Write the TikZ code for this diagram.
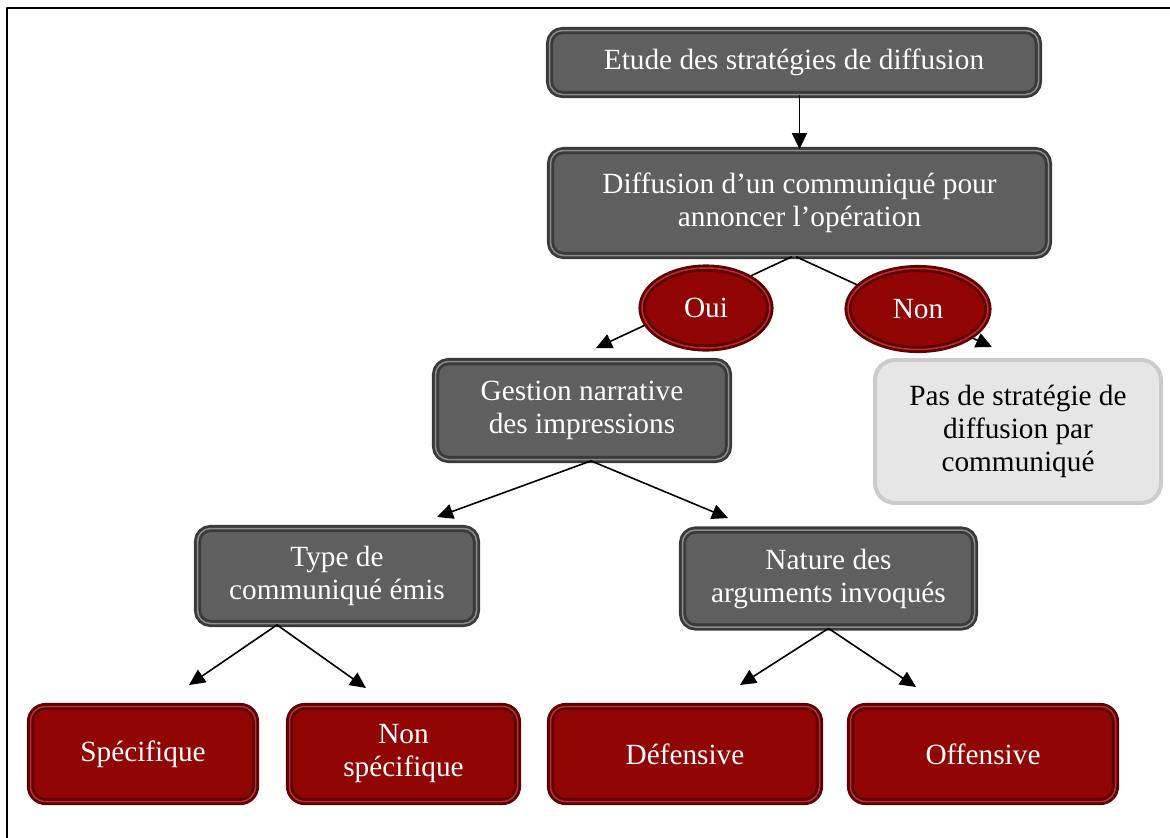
\documentclass[tikz,border=0pt]{standalone}
\usepackage{fontspec}
\setmainfont{Liberation Serif}
\usepackage{tikz}
\usetikzlibrary{arrows.meta}
\usetikzlibrary{shapes.geometric}

\definecolor{boxgray}{HTML}{5F5F5F}
\definecolor{boxrim}{HTML}{3A3A3A}
\definecolor{boxhi}{HTML}{8C8C8C}
\definecolor{boxred}{HTML}{920505}
\definecolor{redrim}{HTML}{5E0000}
\definecolor{redhi}{HTML}{B83030}
\definecolor{palefill}{HTML}{E6E6E6}
\definecolor{palerim}{HTML}{CBCBCB}

\tikzset{
  txt/.style={font=\fontsize{29.3pt}{33pt}\selectfont, align=center},
  graybox/.style={txt, text=white, fill=boxgray, draw=boxrim, double=boxhi,
    double distance=1.5pt, line width=2.8pt, rounded corners=13pt, inner sep=0pt},
  redbox/.style={txt, text=white, fill=boxred, draw=redrim, double=redhi,
    double distance=1.5pt, line width=2.8pt, rounded corners=15pt, inner sep=0pt},
  redoval/.style={txt, text=white, ellipse, fill=boxred, draw=redrim, double=redhi,
    double distance=1.5pt, line width=2.8pt, inner sep=0pt},
  palebox/.style={txt, text=black, fill=palefill, draw=palerim, line width=4pt,
    rounded corners=20pt, inner sep=0pt},
  link/.style={line width=1.6pt, -{Triangle[length=16pt,width=15pt]}},
}

\begin{document}
\begin{tikzpicture}[x=1pt, y=-1pt, line cap=round, line join=round]
  \useasboundingbox (0,0) rectangle (1170,838);
  %--- frame
    \draw[line width=1.2pt] (7,838) -- (7,8) -- (1170,8);
  %--- top
    \node[graybox, minimum width=489pt, minimum height=64pt] (etude) at (794,62.5)
      {Etude des stratégies de diffusion};
    \node[graybox, minimum width=498pt, minimum height=105pt] (diffusion) at (799.5,203)
      {Diffusion d’un communiqué pour\\annoncer l’opération};
    \draw[link] (diffusion.north |- etude.south) -- (diffusion.north);
  %--- Oui / Non
    \coordinate (ouitip) at (596,348);
    \coordinate (nontip) at (992,347);
    \draw[link] ([xshift=-8pt]diffusion.south) -- (ouitip);
    \draw[link] ([xshift=-3pt]diffusion.south) -- (nontip);
    \node[redoval, minimum width=128pt, minimum height=80pt] (oui) at (706,308) {Oui};
    \node[redoval, minimum width=140pt, minimum height=81pt] (non) at (918,309) {Non};
  %--- second level
    \node[graybox, minimum width=293pt, minimum height=98pt] (gestion) at (582,410.5)
      {Gestion narrative\\des impressions};
    \node[palebox, minimum width=286pt, minimum height=143pt] (aucune) at (1018,431.5)
      {Pas de stratégie de\\diffusion par\\communiqué};
  %--- third level
    \node[graybox, minimum width=279pt, minimum height=95pt] (type) at (337,576)
      {Type de\\communiqué émis};
    \node[graybox, minimum width=292pt, minimum height=97pt] (nature) at (828.5,578.5)
      {Nature des\\arguments invoqués};
    \coordinate (typetip) at (437,517);
    \coordinate (naturetip) at (728,518);
    \draw[link] ([xshift=9pt]gestion.south) -- (typetip);
    \draw[link] ([xshift=9pt]gestion.south) -- (naturetip);
  %--- leaves
    \node[redbox, minimum width=225pt, minimum height=95pt] (specifique) at (143,754)
      {Spécifique};
    \node[redbox, minimum width=228pt, minimum height=95pt] (nonspecifique) at (403.5,754)
      {Non\\spécifique};
    \node[redbox, minimum width=269pt, minimum height=95pt] (defensive) at (685,754)
      {Défensive};
    \node[redbox, minimum width=265pt, minimum height=95pt] (offensive) at (983,754)
      {Offensive};
    \coordinate (spectip) at (189,685);
    \coordinate (nonspectip) at (366,688);
    \coordinate (deftip) at (740,685);
    \coordinate (offtip) at (916,687);
    \draw[link] ([xshift=-60pt]type.south) -- (spectip);
    \draw[link] ([xshift=-60pt]type.south) -- (nonspectip);
    \draw[link] (nature.south) -- (deftip);
    \draw[link] (nature.south) -- (offtip);
\end{tikzpicture}
\end{document}
